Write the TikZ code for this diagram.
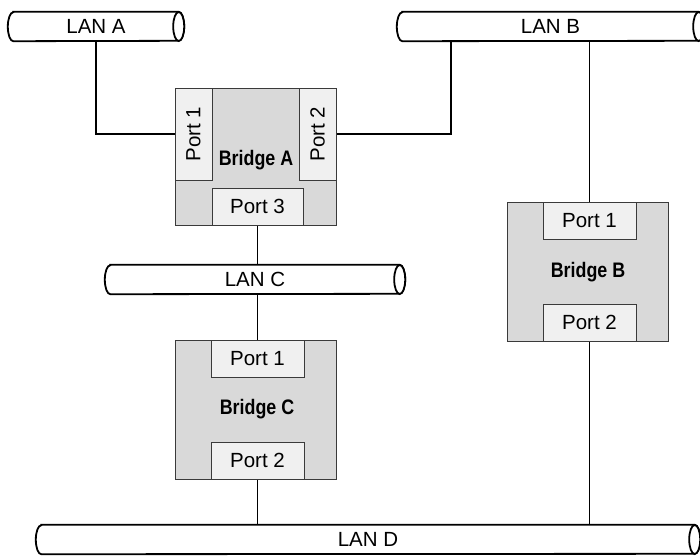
\documentclass[tikz,border=0pt]{standalone}
\usepackage{fontspec}
\setmainfont{Liberation Sans}[BoldFeatures={FakeStretch=0.85}]
\usetikzlibrary{backgrounds}
\definecolor{bridgefill}{HTML}{D9D9D9}
\definecolor{portfill}{HTML}{F0F0F0}
\definecolor{boxline}{HTML}{3A3A3A}
\tikzset{
  txtfont/.style={font=\fontsize{20.5}{24}\selectfont},
  bridgebox/.style={draw=boxline, line width=1pt, fill=bridgefill, inner sep=0pt, rectangle},
  portbox/.style={draw=boxline, line width=1pt, fill=portfill, inner sep=0pt, rectangle, txtfont},
  brlabel/.style={inner sep=0pt, font=\fontsize{21}{24}\selectfont\bfseries},
  lanbody/.style={inner sep=0pt, rectangle, minimum height=29pt, txtfont},
  pipe/.style={draw=black, line width=1.8pt, fill=white},
  wire/.style={draw=black, line width=1.4pt},
}
\newcommand{\lanpipe}[4]{% name, center, width, label
  \node[lanbody, minimum width=#3pt] (#1) at (#2) {};
  \draw[pipe] ([xshift=5.5pt]#1.north west) -- ([xshift=-5.5pt]#1.north east)
     arc[start angle=90, end angle=-90, x radius=5.5pt, y radius=14.5pt]
     -- ([xshift=5.5pt]#1.south west)
     arc[start angle=270, end angle=90, x radius=5.5pt, y radius=14.5pt] -- cycle;
  \draw[pipe] ([xshift=-5.5pt]#1.east) ellipse[x radius=5.5pt, y radius=14.5pt];
  \node[lanbody] at (#1.center) {#4};
}
\begin{document}
\begin{tikzpicture}[x=1pt, y=-1pt]
\useasboundingbox (0,0) rectangle (700,555);

% LANs
\lanpipe{lanA}{96,26.5}{176}{LAN A}
\lanpipe{lanB}{550.5,26.5}{307}{LAN B}
\lanpipe{lanC}{255,279.5}{300}{LAN C}
\lanpipe{lanD}{368,539.5}{664}{LAN D}

% Bridge A
\node[bridgebox, minimum width=161pt, minimum height=137pt] (bA) at (255.5,156.5) {};
\node[portbox, minimum width=37pt, minimum height=92pt] (p1A) at (193.5,134) {};
\node[rotate=90, inner sep=0pt, txtfont] at (p1A.center) {Port 1};
\node[portbox, minimum width=37pt, minimum height=92pt] (p2A) at (317.5,134) {};
\node[rotate=90, inner sep=0pt, txtfont] at (p2A.center) {Port 2};
\node[portbox, minimum width=91pt, minimum height=37pt] (p3A) at (257.5,206.5) {Port 3};
\node[brlabel] at (256,160) {Bridge A};

% Bridge B
\node[bridgebox, minimum width=161pt, minimum height=139pt] (bB) at (587.5,271.5) {};
\node[portbox, minimum width=93pt, minimum height=37pt] (p1B) at (589.5,220.5) {Port 1};
\node[portbox, minimum width=93pt, minimum height=37pt] (p2B) at (589.5,322.5) {Port 2};
\node[brlabel] at (588,272) {Bridge B};

% Bridge C
\node[bridgebox, minimum width=161pt, minimum height=139pt] (bC) at (255.5,409.5) {};
\node[portbox, minimum width=93pt, minimum height=37pt] (p1C) at (257.5,358.5) {Port 1};
\node[portbox, minimum width=93pt, minimum height=37pt] (p2C) at (257.5,460.5) {Port 2};
\node[brlabel] at (257,409) {Bridge C};

% tap point on LAN B
\coordinate (tapB) at (451,41);

% connectors
\begin{scope}[on background layer]
\draw[wire] (lanA.south) |- (p1A.west);
\draw[wire] (p2A.east) -| (tapB);
\draw[wire] (p3A.south) -- (p3A.south |- lanC.north);
\draw[wire] (p1C.north |- lanC.south) -- (p1C.north);
\draw[wire] (p2C.south) -- (p2C.south |- lanD.north);
\draw[wire] (p1B.north |- lanB.south) -- (p1B.north);
\draw[wire] (p2B.south) -- (p2B.south |- lanD.north);
\end{scope}
\end{tikzpicture}
\end{document}
